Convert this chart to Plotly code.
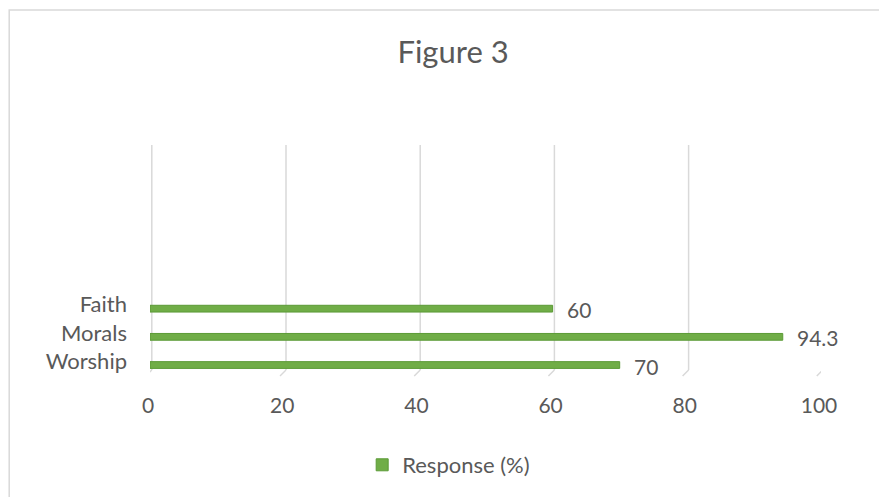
import plotly.graph_objects as go

categories = ["Worship", "Morals", "Faith"]
values = [70, 94.3, 60]
series_name = "Response (%)"
x_ticks = [0, 20, 40, 60, 80, 100]
title_text = "Figure 3"

W, H = 879, 497
L, R = 149.5, 821.5
T, B = 145, 371
pw, ph = R - L, B - T

def px_x(p):
    return (p - L) / pw

def px_y(p):
    return (B - p) / ph

FONT = "Lato"
GREY = "#595959"
GREEN = "#70AD47"

fig = go.Figure()
fig.add_trace(go.Bar(
    y=categories, x=values, orientation="h", name=series_name,
    marker=dict(color=GREEN, line=dict(color="#5b9a36", width=1)),
    width=0.24, showlegend=True,
))

shapes = []
for v in x_ticks:
    shapes.append(dict(type="line", xref="x", yref="paper",
                       xsizemode="pixel", xanchor=v, x0=1.8, x1=1.8,
                       y0=0, y1=1, line=dict(color="#d9d9d9", width=1.5), layer="below"))
    shapes.append(dict(type="line", xref="x", yref="paper",
                       xsizemode="pixel", xanchor=v, x0=1.8, x1=-4.2,
                       ysizemode="pixel", yanchor=0, y0=0, y1=-6,
                       line=dict(color="#d9d9d9", width=1.5), layer="below"))
# chart border (only top/left visible)
shapes.append(dict(type="rect", xref="paper", yref="paper",
                   x0=px_x(8.5), x1=px_x(W + 20), y0=px_y(H + 20), y1=px_y(9.5),
                   line=dict(color="#d9d9d9", width=1.5), layer="below"))

annotations = []
for c, v in zip(categories, values):
    annotations.append(dict(x=v, y=c, xref="x", yref="y", text=f"{v:g}",
                            showarrow=False, xanchor="left", yanchor="middle",
                            xshift=12, yshift=-1,
                            font=dict(family=FONT, size=21, color=GREY)))

fig.update_layout(
    width=W, height=H,
    margin=dict(l=L, r=W - R, t=T, b=H - B, pad=0),
    paper_bgcolor="white", plot_bgcolor="white",
    title=dict(text=title_text, x=px_x(453), xref="paper", xanchor="center",
               y=1 - 52 / H, yref="container", yanchor="middle",
               font=dict(family=FONT, size=31, color=GREY)),
    xaxis=dict(range=[0, 100], tickvals=x_ticks, showgrid=False, zeroline=False,
               showline=False, ticks="", ticklabelshift=-2, ticklabelstandoff=21,
               tickfont=dict(family=FONT, size=21, color=GREY), fixedrange=True),
    yaxis=dict(type="category", range=[-0.177, 7.81], showgrid=False, zeroline=False,
               showline=False, ticks="", ticklabelshift=-4, ticklabelstandoff=22,
               tickfont=dict(family=FONT, size=22, color=GREY), fixedrange=True),
    showlegend=True,
    legend=dict(orientation="h", x=px_x(362), xanchor="left", y=px_y(465), yanchor="middle",
                font=dict(family=FONT, size=22, color=GREY), bgcolor="rgba(0,0,0,0)"),
    shapes=shapes, annotations=annotations,
)

fig.write_html("out.html")
